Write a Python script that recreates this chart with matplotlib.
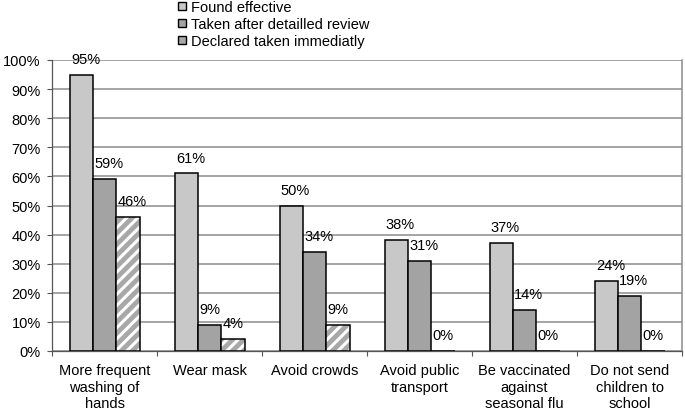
import numpy as np
import matplotlib
matplotlib.use('Agg')
import matplotlib.pyplot as plt
from matplotlib.ticker import FixedLocator, PercentFormatter
from matplotlib.patches import Patch

categories = ['More frequent\nwashing of\nhands', 'Wear mask', 'Avoid crowds',
              'Avoid public\ntransport', 'Be vaccinated\nagainst\nseasonal flu',
              'Do not send\nchildren to\nschool']
found_effective = [95, 61, 50, 38, 37, 24]
taken_after_review = [59, 9, 34, 31, 14, 19]
taken_immediately = [46, 4, 9, 0, 0, 0]
series_names = ['Found effective', 'Taken after detailled review', 'Declared taken immediatly']

plt.rcParams['font.family'] = ['Liberation Sans', 'DejaVu Sans']
plt.rcParams['hatch.linewidth'] = 2.2
fs = 10.5

fig = plt.figure(figsize=(6.85, 4.14), dpi=100)
ax = fig.add_axes([52 / 685, 62 / 414, 630 / 685, 291 / 414])

x = np.arange(len(categories))
w = 1 / 4.5
lw = 1.1

ax.bar(x - w, found_effective, w, color='#c8c8c8', edgecolor='black', linewidth=lw, zorder=3)
ax.bar(x, taken_after_review, w, color='#a3a3a3', edgecolor='black', linewidth=lw, zorder=3)
# hatched bars: white stripes first, black outline on top
ax.bar(x + w, taken_immediately, w, color='#a8a8a8', edgecolor='white', hatch='///', linewidth=0, zorder=3)
ax.bar(x + w, taken_immediately, w, color='none', edgecolor='black', linewidth=lw, zorder=4)

for off, vals in zip([-w, 0, w], [found_effective, taken_after_review, taken_immediately]):
    for xi, v in zip(x, vals):
        ax.annotate(f'{v}%', (xi + off - w / 2, v), xytext=(1, 11.5), textcoords='offset points',
                    ha='left', va='center', fontsize=fs, zorder=5)

ax.set_xlim(-0.5, len(categories) - 0.5)
ax.set_ylim(0, 100)
ax.yaxis.set_major_locator(FixedLocator(np.arange(0, 101, 10)))
ax.yaxis.set_major_formatter(PercentFormatter(decimals=0))
ax.grid(axis='y', color='#8c8c8c', linewidth=1.1, zorder=0)

ax.set_xticks(x)
ax.set_xticklabels(categories, fontsize=fs)
ax.tick_params(axis='x', length=0, pad=9)
ax.set_xticks(np.arange(-0.5, len(categories)), minor=True)
ax.tick_params(axis='x', which='minor', length=3.6, width=0.8, color='#555555')
ax.tick_params(axis='y', length=3.6, width=0.8, color='#555555', labelsize=fs, pad=4.5)

ax.spines['top'].set_visible(False)
ax.spines['right'].set_color('#8c8c8c')
ax.spines['right'].set_linewidth(1.1)
ax.spines['left'].set_color('#555555')
ax.spines['left'].set_linewidth(0.9)
ax.spines['bottom'].set_color('#555555')
ax.spines['bottom'].set_linewidth(0.9)

handles = [Patch(facecolor='#c8c8c8', edgecolor='black', linewidth=1),
           Patch(facecolor='#a3a3a3', edgecolor='black', linewidth=1),
           Patch(facecolor='#a8a8a8', edgecolor='black', linewidth=1)]
fig.legend(handles, series_names, loc='upper left', bbox_to_anchor=(178 / 685, 0.997),
           frameon=False, fontsize=fs, handlelength=0.55, handleheight=0.55,
           handletextpad=0.35, labelspacing=0.2, borderpad=0, borderaxespad=0)

fig.savefig('out.png', dpi=100)
